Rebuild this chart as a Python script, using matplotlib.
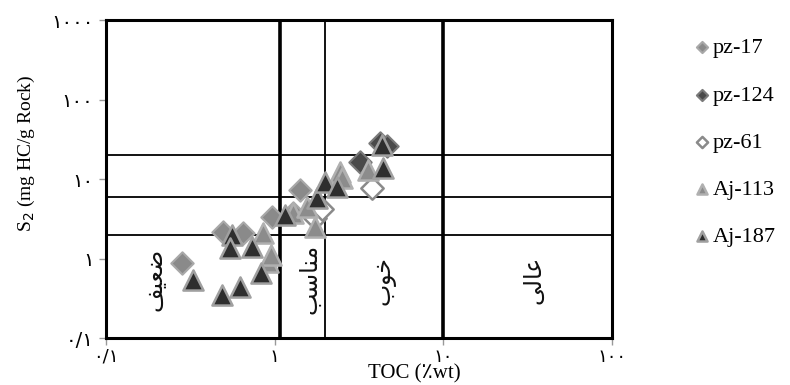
import matplotlib
matplotlib.use('Agg')
import matplotlib.pyplot as plt

# TOC (wt%) vs S2 (mg HC/g rock)
pz17_toc = [0.281, 0.495, 0.652, 0.960, 1.29, 1.41]
pz17_s2 = [0.871, 2.17, 2.07, 3.36, 3.70, 7.27]

pz124_toc = [3.20, 4.21, 4.60]
pz124_s2 = [16.5, 28.1, 26.0]

pz61_toc = [1.73, 1.90, 3.76]
pz61_s2 = [3.23, 4.20, 7.64]

aj113_toc = [0.855, 0.916, 0.95, 1.29, 1.55, 1.73, 2.44, 2.50, 3.59]
aj113_s2 = [2.07, 0.911, 1.10, 3.70, 4.48, 2.51, 12.4, 10.2, 13.0]

aj187_toc = [0.327, 0.485, 0.622, 0.556, 0.543, 0.731, 0.826, 1.15, 1.77, 1.99, 2.33, 4.31, 4.40]
aj187_s2 = [0.537, 0.347, 0.442, 1.98, 1.34, 1.41, 0.652, 3.52, 5.72, 9.25, 8.00, 26.8, 13.6]

# classification boundaries
toc_bounds_thick = [1.07, 10]
toc_bounds_thin = [2]
s2_bounds = [2, 6, 20]

x_ticks = [0.1, 1, 10, 100]
x_tick_labels = ['۰/۱', '۱', '۱۰', '۱۰۰']
y_ticks = [0.1, 1, 10, 100, 1000]
y_tick_labels = ['۰/۱', '۱', '۱۰', '۱۰۰', '۱۰۰۰']

# zone names (ضعیف, مناسب, خوب, عالی) written with Arabic presentation
# forms in visual order, since matplotlib does no Arabic shaping itself
zone_names = ['\uFED2\uFEF4\uFECC\uFEBF',
              '\uFE90\uFEB3\uFE8E\uFEE8\uFEE3',
              '\uFE8F\uFEEE\uFEA7',
              '\uFEF0\uFEDF\uFE8E\uFECB']
zone_x = [0.195, 1.60, 4.4, 34]
zone_y = [0.55, 0.56, 0.53, 0.54]

serif = ['Liberation Serif', 'DejaVu Sans']

fig = plt.figure(figsize=(7.9, 3.85), dpi=100)
ax = fig.add_axes([0.134, 0.122, 0.641, 0.826])
ax.set_xscale('log')
ax.set_yscale('log')
ax.set_xlim(0.1, 100)
ax.set_ylim(0.1, 1000)

for x in toc_bounds_thick:
    ax.axvline(x, color='black', lw=2.6, zorder=1)
for x in toc_bounds_thin:
    ax.axvline(x, color='black', lw=1.3, zorder=1)
for y in s2_bounds:
    ax.axhline(y, color='black', lw=1.3, zorder=1)

tri = 210
dia = 130
ax.scatter(pz17_toc, pz17_s2, marker='D', s=dia, facecolor='#8a8a8a',
           edgecolor='#a8a8a8', lw=1.5, label='pz-17', zorder=3)
ax.scatter(pz124_toc, pz124_s2, marker='D', s=dia, facecolor='#4a4a4a',
           edgecolor='#7a7a7a', lw=1.5, label='pz-124', zorder=3)
ax.scatter(pz61_toc, pz61_s2, marker='D', s=dia, facecolor='white',
           edgecolor='#8a8a8a', lw=1.8, label='pz-61', zorder=3)
ax.scatter(aj113_toc, aj113_s2, marker='^', s=tri, facecolor='#8c8c8c',
           edgecolor='#b0b0b0', lw=1.8, label='Aj-113', zorder=4)
ax.scatter(aj187_toc, aj187_s2, marker='^', s=tri, facecolor='#2e2e2e',
           edgecolor='#a0a0a0', lw=1.8, label='Aj-187', zorder=4)

for name, x, y in zip(zone_names, zone_x, zone_y):
    ax.text(x, y, name, rotation=90, ha='center', va='center',
            fontsize=17, family='DejaVu Sans', color='#111111')

for side in ['left', 'right', 'top', 'bottom']:
    ax.spines[side].set_linewidth(2.2)

ax.set_xticks(x_ticks)
ax.set_xticklabels(x_tick_labels, fontsize=13, family='DejaVu Sans')
ax.set_yticks(y_ticks)
ax.set_yticklabels(y_tick_labels, fontsize=14, family='DejaVu Sans')
ax.minorticks_off()
ax.tick_params(length=5, width=1, color='#999999', pad=4)
ax.tick_params(axis='x', pad=2)

ax.set_xlabel('TOC (\u066Awt)', fontsize=15, family=serif, va='bottom')
ax.xaxis.set_label_coords(0.61, -0.143)
ax.set_ylabel('S$_2$ (mg HC/g Rock)', fontsize=14, family=serif)
ax.yaxis.set_label_coords(-0.135, 0.58)

ax.legend(loc='upper left', bbox_to_anchor=(0.863, 0.925), bbox_transform=fig.transFigure,
          frameon=False, prop={'family': serif, 'size': 16}, handletextpad=0.0,
          handlelength=1.0, labelspacing=1.2, markerscale=0.5, borderaxespad=0)

fig.savefig('out.png', dpi=100)
